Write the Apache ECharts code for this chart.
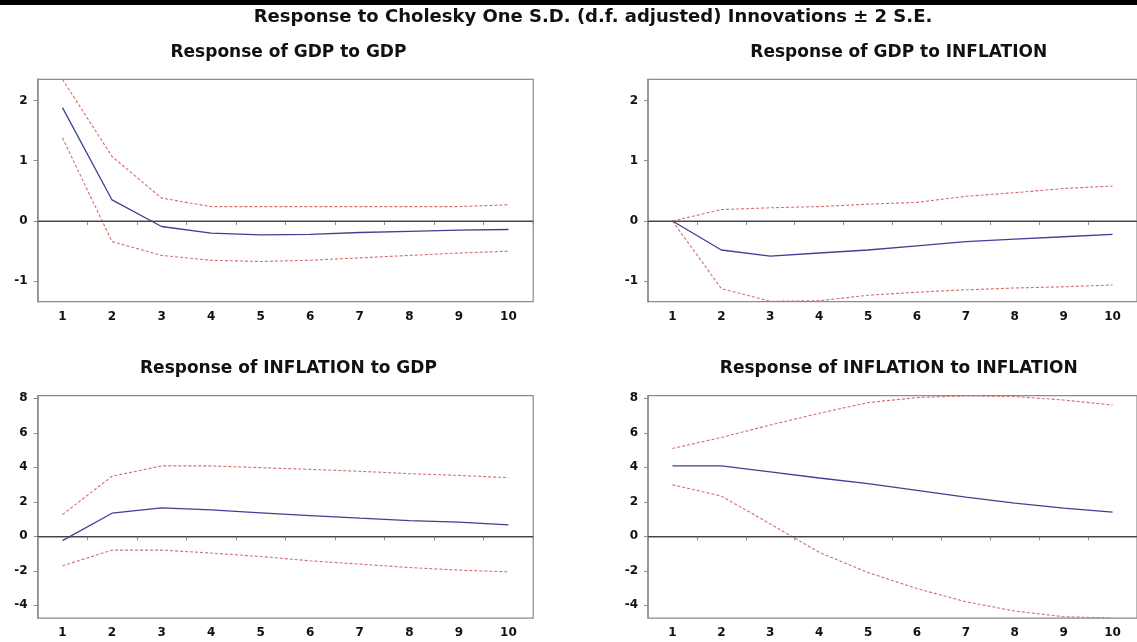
<!DOCTYPE html>
<html>
<head>
<meta charset="utf-8">
<script src="https://cdn.jsdelivr.net/npm/echarts@6/dist/echarts.min.js"></script>
<style>html,body{margin:0;padding:0;background:#fff;}#chart{width:1137px;height:642px;}</style>
</head>
<body>
<div id="chart"></div>
<script>
const mainTitle = 'Response to Cholesky One S.D. (d.f. adjusted) Innovations \u00b1 2 S.E.';
const panelTitles = ['Response of GDP to GDP', 'Response of GDP to INFLATION', 'Response of INFLATION to GDP', 'Response of INFLATION to INFLATION'];
const periods = ['1', '2', '3', '4', '5', '6', '7', '8', '9', '10'];
const yTicksTop = [-1, 0, 1, 2];
const yTicksBottom = [-4, -2, 0, 2, 4, 6, 8];

// Response of GDP to GDP
const gdpGdp      = [1.88, 0.35, -0.09, -0.20, -0.23, -0.22, -0.19, -0.17, -0.15, -0.14];
const gdpGdpUp    = [2.35, 1.07, 0.38, 0.24, 0.24, 0.24, 0.24, 0.24, 0.24, 0.27];
const gdpGdpLo    = [1.38, -0.34, -0.57, -0.65, -0.67, -0.65, -0.61, -0.57, -0.53, -0.50];
// Response of GDP to INFLATION
const gdpInf      = [0.00, -0.48, -0.58, -0.53, -0.48, -0.41, -0.34, -0.30, -0.26, -0.22];
const gdpInfUp    = [0.00, 0.19, 0.22, 0.24, 0.28, 0.31, 0.41, 0.47, 0.54, 0.58];
const gdpInfLo    = [0.00, -1.12, -1.33, -1.32, -1.23, -1.18, -1.14, -1.11, -1.09, -1.06];
// Response of INFLATION to GDP
const infGdp      = [-0.25, 1.34, 1.65, 1.53, 1.36, 1.20, 1.05, 0.91, 0.82, 0.66];
const infGdpUp    = [1.26, 3.48, 4.08, 4.08, 3.98, 3.88, 3.77, 3.63, 3.53, 3.40];
const infGdpLo    = [-1.71, -0.80, -0.80, -0.97, -1.17, -1.42, -1.61, -1.81, -1.96, -2.06];
// Response of INFLATION to INFLATION
const infInf      = [4.08, 4.08, 3.73, 3.38, 3.05, 2.66, 2.27, 1.92, 1.63, 1.40];
const infInfUp    = [5.09, 5.73, 6.45, 7.13, 7.75, 8.04, 8.14, 8.10, 7.90, 7.61];
const infInfLo    = [2.99, 2.33, 0.72, -0.93, -2.10, -3.03, -3.79, -4.33, -4.66, -4.74];

const panels = [
  { resp: gdpGdp, up: gdpGdpUp, lo: gdpGdpLo, ticks: yTicksTop, min: -1.337, max: 2.35 },
  { resp: gdpInf, up: gdpInfUp, lo: gdpInfLo, ticks: yTicksTop, min: -1.337, max: 2.35 },
  { resp: infGdp, up: infGdpUp, lo: infGdpLo, ticks: yTicksBottom, min: -4.74, max: 8.15 },
  { resp: infInf, up: infInfUp, lo: infInfLo, ticks: yTicksBottom, min: -4.74, max: 8.15 }
];

const gridPos = [
  { left: 37.7, top: 79.3 },
  { left: 648, top: 79.3 },
  { left: 37.7, top: 395.7 },
  { left: 648, top: 395.7 }
];
const GW = 495.5, GH = 222.4;
const axisColor = '#8c8c8c';
const labelFont = { fontFamily: 'DejaVu Sans', fontWeight: 'bold', fontSize: 12, color: '#111' };

const grids = [], xAxes = [], yAxes = [], series = [], graphics = [];

graphics.push({ type: 'rect', shape: { x: 0, y: 0, width: 1137, height: 5 }, style: { fill: '#000' }, silent: true });
graphics.push({ type: 'text', x: 593, y: 17, style: { text: mainTitle, align: 'center', verticalAlign: 'middle', fontFamily: 'DejaVu Sans', fontWeight: 'bold', fontSize: 18, fill: '#111' } });

panels.forEach(function (p, i) {
  const g = gridPos[i];
  grids.push({ left: g.left, top: g.top, width: GW, height: GH, show: true, borderColor: axisColor, borderWidth: 1.2, backgroundColor: 'transparent' });
  graphics.push({ type: 'text', x: g.left + GW / 2 + 3, y: g.top - 27, style: { text: panelTitles[i], align: 'center', verticalAlign: 'middle', fontFamily: 'DejaVu Sans', fontWeight: 'bold', fontSize: 17, fill: '#111' } });
  xAxes.push({
    type: 'category', gridIndex: i, data: periods, boundaryGap: true,
    axisLine: { lineStyle: { color: axisColor, width: 1.5 } },
    axisTick: { show: true, length: 4, inside: false, lineStyle: { color: axisColor } },
    axisLabel: Object.assign({ margin: 9 }, labelFont),
    splitLine: { show: false }
  });
  yAxes.push({
    type: 'value', gridIndex: i, min: p.min, max: p.max,
    axisLine: { show: true, lineStyle: { color: axisColor, width: 1.5 } },
    axisTick: { show: true, length: 4, inside: false, customValues: p.ticks, lineStyle: { color: axisColor } },
    axisLabel: Object.assign({ margin: 10, customValues: p.ticks }, labelFont),
    splitLine: { show: false }
  });
  series.push({
    type: 'line', xAxisIndex: i, yAxisIndex: i, data: p.up, symbol: 'none', silent: true,
    lineStyle: { color: '#d46e6e', width: 1.1, type: [3, 2] }, z: 3
  });
  series.push({
    type: 'line', xAxisIndex: i, yAxisIndex: i, data: p.lo, symbol: 'none', silent: true,
    lineStyle: { color: '#d46e6e', width: 1.1, type: [3, 2] }, z: 3
  });
  series.push({
    type: 'line', xAxisIndex: i, yAxisIndex: i, data: p.resp, symbol: 'none', silent: true,
    lineStyle: { color: '#404094', width: 1.3 }, z: 4,
    markLine: {
      silent: true, symbol: 'none', label: { show: false },
      lineStyle: { color: '#444', width: 1, type: 'solid' },
      data: [{ yAxis: 0 }]
    }
  });
});

const chart = echarts.init(document.getElementById('chart'), null, { renderer: 'canvas' });
chart.setOption({
  animation: false,
  backgroundColor: '#fff',
  grid: grids,
  xAxis: xAxes,
  yAxis: yAxes,
  series: series,
  graphic: graphics
});
</script>
</body>
</html>
